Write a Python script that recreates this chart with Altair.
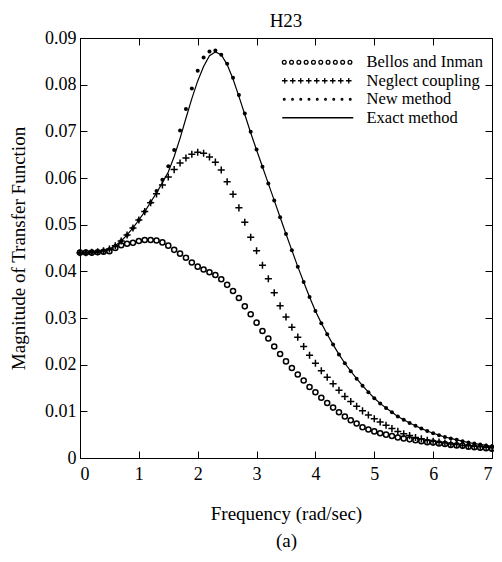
import altair as alt
import pandas as pd

FONT = "Liberation Serif"

# ---------------- data ----------------
freq = [0.0, 0.1, 0.2, 0.3, 0.4, 0.5, 0.6, 0.7, 0.8, 0.9,
        1.0, 1.1, 1.2, 1.3, 1.4, 1.5, 1.6, 1.7, 1.8, 1.9,
        2.0, 2.1, 2.2, 2.3, 2.4, 2.5, 2.6, 2.7, 2.8, 2.9,
        3.0, 3.1, 3.2, 3.3, 3.4, 3.5, 3.6, 3.7, 3.8, 3.9,
        4.0, 4.1, 4.2, 4.3, 4.4, 4.5, 4.6, 4.7, 4.8, 4.9,
        5.0, 5.1, 5.2, 5.3, 5.4, 5.5, 5.6, 5.7, 5.8, 5.9,
        6.0, 6.1, 6.2, 6.3, 6.4, 6.5, 6.6, 6.7, 6.8, 6.9, 7.0]

bellos = [0.0440, 0.0440, 0.0440, 0.0441, 0.0442, 0.0443, 0.0450, 0.0456, 0.0459, 0.0461,
          0.0465, 0.0467, 0.0467, 0.0466, 0.0462, 0.0455, 0.0446, 0.0438, 0.0429, 0.0419,
          0.0410, 0.0404, 0.0398, 0.0392, 0.0383, 0.0371, 0.0358, 0.0343, 0.0325, 0.0308,
          0.0290, 0.0272, 0.0256, 0.0239, 0.0223, 0.0207, 0.0193, 0.0179, 0.0166, 0.0152,
          0.0141, 0.0129, 0.0118, 0.0108, 0.0098, 0.0089, 0.0081, 0.0074, 0.0066, 0.0061,
          0.0057, 0.0053, 0.0050, 0.0047, 0.0044, 0.0042, 0.0040, 0.0038, 0.0036, 0.0034,
          0.0033, 0.0031, 0.0030, 0.0028, 0.0027, 0.0026, 0.0024, 0.0023, 0.0022, 0.0021, 0.0020]

neglect = [0.0440, 0.0440, 0.0441, 0.0442, 0.0444, 0.0448, 0.0455, 0.0465, 0.0478, 0.0493,
           0.0510, 0.0528, 0.0547, 0.0566, 0.0585, 0.0602, 0.0618, 0.0632, 0.0643, 0.0651,
           0.0655, 0.0653, 0.0645, 0.0634, 0.0617, 0.0592, 0.0565, 0.0536, 0.0505, 0.0473,
           0.0444, 0.0413, 0.0384, 0.0354, 0.0326, 0.0302, 0.0280, 0.0259, 0.0239, 0.0220,
           0.0203, 0.0187, 0.0173, 0.0159, 0.0145, 0.0132, 0.0121, 0.0111, 0.0101, 0.0092,
           0.0084, 0.0077, 0.0070, 0.0063, 0.0057, 0.0052, 0.0048, 0.0044, 0.0041, 0.0038,
           0.0036, 0.0034, 0.0032, 0.0030, 0.0029, 0.0027, 0.0026, 0.0025, 0.0024, 0.0023, 0.0022]

new_method = [0.0440, 0.0440, 0.0441, 0.0442, 0.0444, 0.0448, 0.0455, 0.0465, 0.0478, 0.0493,
              0.0510, 0.0528, 0.0548, 0.0572, 0.0596, 0.0625, 0.0660, 0.0702, 0.0748, 0.0792,
              0.0830, 0.0858, 0.0871, 0.0873, 0.0864, 0.0845, 0.0815, 0.0778, 0.0738, 0.0699,
              0.0661, 0.0624, 0.0588, 0.0552, 0.0516, 0.0480, 0.0445, 0.0410, 0.0377, 0.0345,
              0.0315, 0.0289, 0.0265, 0.0243, 0.0222, 0.0203, 0.0186, 0.0170, 0.0155, 0.0141,
              0.0128, 0.0117, 0.0107, 0.0098, 0.0089, 0.0082, 0.0075, 0.0069, 0.0063, 0.0058,
              0.0053, 0.0049, 0.0045, 0.0042, 0.0039, 0.0036, 0.0033, 0.0031, 0.0029, 0.0027, 0.0025]

exact = [0.0440, 0.0440, 0.0441, 0.0442, 0.0444, 0.0448, 0.0455, 0.0465, 0.0478, 0.0493,
         0.0510, 0.0528, 0.0548, 0.0568, 0.0590, 0.0613, 0.0646, 0.0685, 0.0728, 0.0770,
         0.0808, 0.0839, 0.0862, 0.0870, 0.0864, 0.0843, 0.0812, 0.0775, 0.0736, 0.0697,
         0.0660, 0.0624, 0.0588, 0.0552, 0.0516, 0.0480, 0.0445, 0.0410, 0.0377, 0.0345,
         0.0315, 0.0289, 0.0265, 0.0243, 0.0222, 0.0203, 0.0186, 0.0170, 0.0155, 0.0141,
         0.0128, 0.0117, 0.0107, 0.0098, 0.0089, 0.0082, 0.0075, 0.0069, 0.0063, 0.0058,
         0.0053, 0.0049, 0.0045, 0.0042, 0.0039, 0.0036, 0.0033, 0.0031, 0.0029, 0.0027, 0.0025]

series_names = ["Bellos and Inman", "Neglect coupling", "New method", "Exact method"]
x_ticks = [0, 1, 2, 3, 4, 5, 6, 7]
y_ticks = [0.0, 0.01, 0.02, 0.03, 0.04, 0.05, 0.06, 0.07, 0.08, 0.09]

df = pd.DataFrame({
    "freq": freq * 4,
    "value": bellos + neglect + new_method + exact,
    "series": [s for s in series_names for _ in freq],
})

# ---------------- legend symbol shapes (custom SVG paths) ----------------
def circ(cx, r):
    return f"M{cx - r:.2f},0a{r},{r} 0 1,0 {2 * r},0a{r},{r} 0 1,0 {-2 * r},0"

circles_row = "".join(circ(0.4 + 1.46 * i, 0.38) for i in range(10))
plus_row = "".join(
    f"M{0.5 + 1.6 * i - 0.55:.2f},0L{0.5 + 1.6 * i + 0.55:.2f},0"
    f"M{0.5 + 1.6 * i:.2f},-0.55L{0.5 + 1.6 * i:.2f},0.55" for i in range(9))
dots_row = "".join(circ(0.4 + 1.65 * i, 0.17) for i in range(9))
line_row = "M0,0L14.2,0"

shape_expr = (
    f"datum.value === '{series_names[0]}' ? '{circles_row}' : "
    f"datum.value === '{series_names[1]}' ? '{plus_row}' : "
    f"datum.value === '{series_names[2]}' ? '{dots_row}' : '{line_row}'"
)

x_scale = alt.Scale(domain=[0, 7], nice=False, zero=False)
y_scale = alt.Scale(domain=[0, 0.09], nice=False, zero=False)
inward = alt.ExprRef(expr="-7")

base = alt.Chart(df)

main_x = alt.X("freq:Q", scale=x_scale, axis=alt.Axis(
    values=x_ticks, format="d", tickSize=inward, labelPadding=14,
    title=["Frequency (rad/sec)", "(a)"], titleLineHeight=27, titlePadding=21))
main_y = alt.Y("value:Q", scale=y_scale, axis=alt.Axis(
    values=y_ticks, format=".2~f", tickSize=inward, labelPadding=11,
    title="Magnitude of Transfer Function", titlePadding=16))

line = base.transform_filter(alt.datum.series == "Exact method").mark_line(
    color="black", strokeWidth=1.2).encode(x=main_x, y=main_y)

bellos_layer = base.transform_filter(alt.datum.series == "Bellos and Inman").mark_point(
    shape="circle", size=26, filled=False, strokeWidth=1.5, opacity=1).encode(
    x=alt.X("freq:Q", scale=x_scale, axis=None),
    y=alt.Y("value:Q", scale=y_scale, axis=None),
    color=alt.Color("series:N", scale=alt.Scale(domain=series_names, range=["black"] * 4),
                    legend=alt.Legend(title=None, orient="none", legendX=194, legendY=16,
                                      symbolType=alt.ExprRef(expr=shape_expr),
                                      symbolSize=100, symbolStrokeWidth=1.3,
                                      labelFont=FONT, labelFontSize=16.5, labelColor="black",
                                      labelOffset=76, rowPadding=1.5)))

neglect_layer = base.transform_filter(alt.datum.series == "Neglect coupling").mark_point(
    shape="M-1,0L1,0M0,-1L0,1", size=50, filled=False, strokeWidth=1.5,
    color="black", opacity=1).encode(
    x=alt.X("freq:Q", scale=x_scale, axis=None),
    y=alt.Y("value:Q", scale=y_scale, axis=None))

new_layer = base.transform_filter(alt.datum.series == "New method").mark_point(
    shape="circle", size=16, filled=True, color="black", opacity=1).encode(
    x=alt.X("freq:Q", scale=x_scale, axis=None),
    y=alt.Y("value:Q", scale=y_scale, axis=None))

frame_layer = base.transform_filter(alt.datum.series == "Exact method").mark_point(
    opacity=0).encode(
    x=alt.X("freq:Q", scale=x_scale, axis=alt.Axis(
        orient="top", values=x_ticks, labels=False, tickSize=inward, title=None)),
    y=alt.Y("value:Q", scale=y_scale, axis=alt.Axis(
        orient="right", values=y_ticks, labels=False, tickSize=inward, title=None)))

chart = alt.layer(line, bellos_layer, neglect_layer, new_layer, frame_layer).resolve_axis(
    x="independent", y="independent"
).properties(
    width=412, height=420,
    padding={"left": 72, "top": 30, "right": 2, "bottom": 95},
    autosize=alt.AutoSizeParams(type="none"),
    title=alt.TitleParams("H23", frame="group", anchor="middle", font=FONT,
                          fontSize=19, fontWeight="normal", color="black",
                          offset=11, dy=13),
    background="white",
).configure_view(
    stroke="black", strokeWidth=1
).configure_axis(
    grid=False, domainColor="black", domainWidth=1, tickColor="black", tickWidth=1,
    labelFont=FONT, labelFontSize=18, labelColor="black",
    titleFont=FONT, titleFontSize=19, titleFontWeight="normal", titleColor="black",
)

chart.save("out.html", embed_options={"renderer": "svg", "actions": False})
